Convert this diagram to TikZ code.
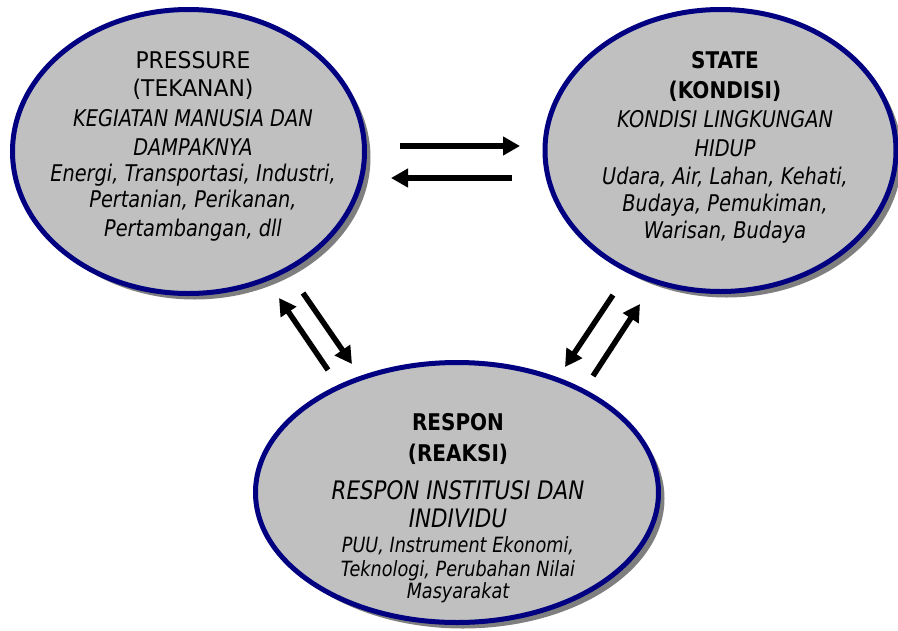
\documentclass[tikz,border=0pt]{standalone}
\usepackage{fontspec}
\newfontfamily\fontreg[FakeStretch=0.95]{DejaVu Sans}
\newfontfamily\fontital[FakeStretch=0.84]{DejaVu Sans Oblique}
\newfontfamily\fontbold[FakeStretch=0.87]{DejaVu Sans Bold}
\usetikzlibrary{arrows.meta,shadows,shapes.geometric}
\definecolor{navy}{HTML}{000080}
\definecolor{ellfill}{HTML}{C0C0C0}
\tikzset{
  bubble/.style={ellipse, draw=navy, line width=5pt, fill=ellfill, inner sep=0pt,
    drop shadow={shadow xshift=6pt, shadow yshift=-6pt, fill=black, opacity=0.5}},
  ln/.style={anchor=base, inner sep=0pt, font=\fontsize{23}{28}\selectfont\fontreg},
  lnb/.style={ln, font=\fontsize{23}{28}\selectfont\fontbold},
  lni/.style={ln, font=\fontsize{23}{28}\selectfont\fontital},
  lnbig/.style={ln, font=\fontsize{25.5}{28}\selectfont\fontital},
  lnsm/.style={ln, font=\fontsize{21}{25}\selectfont\fontital},
  flow/.style={line width=5.5pt, -{Triangle[length=17pt,width=18pt]}}
}
\begin{document}
\begin{tikzpicture}[x=1pt,y=-1pt]
\useasboundingbox (0,0) rectangle (898,630);
% ellipses
\node[bubble, minimum width=352pt, minimum height=284pt] (press) at (188.5,151.5) {};
\node[bubble, minimum width=351pt, minimum height=282pt] (state) at (720.5,150.5) {};
\node[bubble, minimum width=403pt, minimum height=260pt] (resp) at (457,492.5) {};
% pressure text
\node[ln]  (pr1) at (193,68) {PRESSURE};
\node[ln]  (pr2) at (193,96.5) {(TEKANAN)};
\node[lni] (pr3) at (193,126.5) {KEGIATAN MANUSIA DAN};
\node[lni] (pr4) at (193,155) {DAMPAKNYA};
\node[lni] (pr5) at (193,181.5) {Energi, Transportasi, Industri,};
\node[lni] (pr6) at (193,207.5) {Pertanian, Perikanan,};
\node[lni] (pr7) at (193,236.5) {Pertambangan, dll};
% state text
\node[lnb] (st1) at (725,68) {STATE};
\node[lnb] (st2) at (725,98) {(KONDISI)};
\node[lni] (st3) at (725,127) {KONDISI LINGKUNGAN};
\node[lni] (st4) at (725,156) {HIDUP};
\node[lni] (st5) at (725,184) {Udara, Air, Lahan, Kehati,};
\node[lni] (st6) at (725,211) {Budaya, Pemukiman,};
\node[lni] (st7) at (725,238) {Warisan, Budaya};
% respon text
\node[lnb]   (re1) at (458,430) {RESPON};
\node[lnb]   (re2) at (458,461) {(REAKSI)};
\node[lnbig] (re3) at (458,499) {RESPON INSTITUSI DAN};
\node[lnbig] (re4) at (458,527) {INDIVIDU};
\node[lnsm]  (re5) at (458,552) {PUU, Instrument Ekonomi,};
\node[lnsm]  (re6) at (458,576) {Teknologi, Perubahan Nilai};
\node[lnsm]  (re7) at (458,598) {Masyarakat};
% arrow end points
\coordinate (h1a) at (400,146);
\coordinate (h1b) at (520,146);
\coordinate (h2a) at (512,178);
\coordinate (h2b) at (391,178);
\coordinate (l1a) at (328,370);
\coordinate (l1b) at (279,298);
\coordinate (l2a) at (303,293);
\coordinate (l2b) at (352,364);
\coordinate (r1a) at (613,295);
\coordinate (r1b) at (565,367);
\coordinate (r2a) at (593,376);
\coordinate (r2b) at (640,304);
\draw[flow] (h1a) -- (h1b);
\draw[flow] (h2a) -- (h2b);
\draw[flow] (l1a) -- (l1b);
\draw[flow] (l2a) -- (l2b);
\draw[flow] (r1a) -- (r1b);
\draw[flow] (r2a) -- (r2b);
\end{tikzpicture}
\end{document}
